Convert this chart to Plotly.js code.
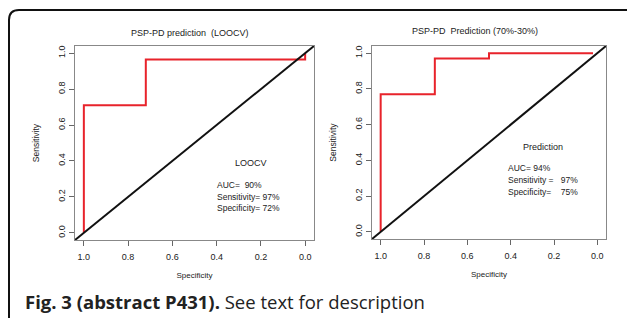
<!DOCTYPE html>
<html>
<head>
<meta charset="utf-8">
<script src="https://cdn.plot.ly/plotly-3.0.1.min.js"></script>
<style>
html,body{margin:0;padding:0;background:#fff;}
#chart{width:627px;height:318px;}
</style>
</head>
<body>
<div id="chart"></div>
<script>
// ---- data ----
const looSpec = [1.0, 1.0, 0.72, 0.72, 0.0, 0.0];
const looSens = [0.0, 0.71, 0.71, 0.965, 0.965, 1.0];
const predSpec = [1.0, 1.0, 0.75, 0.75, 0.5, 0.5, 0.02];
const predSens = [0.0, 0.77, 0.77, 0.97, 0.97, 1.0, 1.0];
const diagSpec = [1.04, -0.04];
const diagSens = [-0.04, 1.04];
const tickVals = [1.0, 0.8, 0.6, 0.4, 0.2, 0.0];
const tickText = ["1.0", "0.8", "0.6", "0.4", "0.2", "0.0"];
const yTickVals = [0.0, 0.2, 0.4, 0.6, 0.8, 1.0];
const yTickText = ["0.0", "0.2", "0.4", "0.6", "0.8", "1.0"];
const titles = ["PSP-PD prediction  (LOOCV)", "PSP-PD  Prediction (70%-30%)"];
const leftLabels = ["AUC=  90%", "Sensitivity= 97%", "Specificity= 72%"];
const rightLabels = ["AUC= 94%", "Sensitivity =   97%", "Specificity=    75%"];

const W = 627, H = 318;
const X = p => p / W;
const Y = p => 1 - p / H;
const red = '#e8232b';
const txt = '#222';
const fnt = 'Liberation Sans, Arial, sans-serif';

const traces = [
  {x: looSpec, y: looSens, xaxis: 'x', yaxis: 'y', mode: 'lines', line: {color: red, width: 2}},
  {x: diagSpec, y: diagSens, xaxis: 'x', yaxis: 'y', mode: 'lines', line: {color: '#111', width: 2}},
  {x: predSpec, y: predSens, xaxis: 'x2', yaxis: 'y2', mode: 'lines', line: {color: red, width: 2}},
  {x: diagSpec, y: diagSens, xaxis: 'x2', yaxis: 'y2', mode: 'lines', line: {color: '#111', width: 2}}
];

function xax(dom, anchor) {
  return {domain: dom, anchor: anchor, range: [1.04, -0.04], tickvals: tickVals, ticktext: tickText,
    ticks: 'outside', ticklen: 5, tickcolor: '#666', showline: true, linecolor: '#888', linewidth: 1,
    mirror: true, showgrid: false, zeroline: false, tickfont: {family: fnt, size: 9, color: txt},
    ticklabelstandoff: 3,
    title: {text: 'Specificity', font: {family: fnt, size: 8, color: txt}, standoff: 11}};
}
function yax(dom, anchor) {
  return {domain: dom, anchor: anchor, range: [-0.04, 1.04], tickvals: yTickVals, ticktext: yTickText,
    ticks: 'outside', ticklen: 5, tickcolor: '#666', showline: true, linecolor: '#888', linewidth: 1,
    mirror: true, showgrid: false, zeroline: false, tickangle: -90, tickfont: {family: fnt, size: 9, color: txt},
    title: {text: 'Sensitivity', font: {family: fnt, size: 8.5, color: txt}, standoff: 16}};
}

const ann = [];
ann.push({text: titles[0], x: X(190), y: Y(33), xref: 'paper', yref: 'paper', showarrow: false,
  font: {family: fnt, size: 9, color: txt}, xanchor: 'center', yanchor: 'middle'});
ann.push({text: titles[1], x: X(475), y: Y(31), xref: 'paper', yref: 'paper', showarrow: false,
  font: {family: fnt, size: 9, color: txt}, xanchor: 'center', yanchor: 'middle'});
ann.push({text: 'LOOCV', x: X(251), y: Y(163), xref: 'paper', yref: 'paper', showarrow: false,
  font: {family: fnt, size: 9, color: txt}, xanchor: 'center', yanchor: 'middle'});
ann.push({text: 'Prediction', x: X(543), y: Y(147), xref: 'paper', yref: 'paper', showarrow: false,
  font: {family: fnt, size: 9, color: txt}, xanchor: 'center', yanchor: 'middle'});
const ly = [185, 197, 208], ry = [168, 180, 192];
leftLabels.forEach((t, i) => ann.push({text: t, x: X(215), y: Y(ly[i]), xref: 'paper', yref: 'paper', showarrow: false,
  font: {family: fnt, size: 8.5, color: txt}, xanchor: 'left', yanchor: 'middle'}));
rightLabels.forEach((t, i) => ann.push({text: t, x: X(506), y: Y(ry[i]), xref: 'paper', yref: 'paper', showarrow: false,
  font: {family: fnt, size: 8.5, color: txt}, xanchor: 'left', yanchor: 'middle'}));
ann.push({text: '<b>Fig. 3 (abstract P431).</b> See text for description', x: X(23), y: Y(301),
  xref: 'paper', yref: 'paper', showarrow: false, xanchor: 'left', yanchor: 'middle',
  font: {family: 'Open Sans, sans-serif', size: 18.5, color: '#222'}});

// rounded frame (pixel coords converted to paper)
const x0 = 9, y0 = 10, x1 = 700, y1 = 328, r = 10;
const framePath = `M ${X(x0)} ${Y(y1)} L ${X(x0)} ${Y(y0 + r)} Q ${X(x0)} ${Y(y0)} ${X(x0 + r)} ${Y(y0)} L ${X(x1)} ${Y(y0)}`;

const layout = {
  width: W, height: H, margin: {l: 0, r: 0, t: 0, b: 0}, paper_bgcolor: '#fff', plot_bgcolor: '#fff',
  showlegend: false, hovermode: false,
  xaxis: xax([X(75), X(314)], 'y'), yaxis: yax([Y(240), Y(46)], 'x'),
  xaxis2: xax([X(372), X(606)], 'y2'), yaxis2: yax([Y(239), Y(46)], 'x2'),
  annotations: ann,
  shapes: [{type: 'path', xref: 'paper', yref: 'paper', path: framePath, line: {color: '#111', width: 2}}]
};

Plotly.newPlot('chart', traces, layout, {staticPlot: true, displayModeBar: false});
</script>
</body>
</html>
